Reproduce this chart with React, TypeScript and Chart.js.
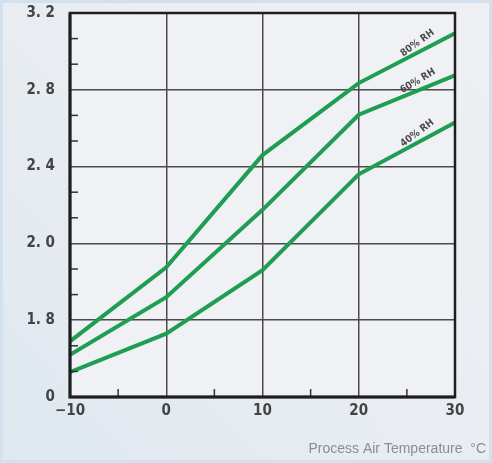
import React, { useEffect, useRef } from "react";
import { Chart, registerables } from "chart.js";

Chart.register(...registerables);

const temperatures = [-10, 0, 10, 20, 30];
const rh80 = [1.49, 1.875, 2.46, 2.835, 3.095];
const rh60 = [1.42, 1.72, 2.175, 2.67, 2.875];
const rh40 = [1.33, 1.53, 1.86, 2.36, 2.63];
const seriesNames = ["80% RH", "60% RH", "40% RH"];
const yTickLabels = ["0", "1. 8", "2. 0", "2. 4", "2. 8", "3. 2"];
const xTickLabels = ["\u221210", "0", "10", "20", "30"];
const xTitle = "Process Air Temperature  \u00b0C";

const LINE_COLOR = "#1f9d52";

const decorPlugin = {
  id: "decor",
  beforeDraw(chart: any) {
    const { ctx, width, height, chartArea } = chart;
    ctx.save();
    const g = ctx.createLinearGradient(0, height, width, 0);
    g.addColorStop(0, "#dfe8f0");
    g.addColorStop(0.5, "#e9edf1");
    g.addColorStop(1, "#eef0f3");
    ctx.fillStyle = g;
    ctx.fillRect(0, 0, width, height);
    ctx.fillStyle = "#eff1f4";
    ctx.fillRect(chartArea.left, chartArea.top, chartArea.right - chartArea.left, chartArea.bottom - chartArea.top);
    ctx.strokeStyle = "#d3e0ee";
    ctx.lineWidth = 6;
    ctx.strokeRect(0, 0, width, height);
    ctx.restore();
  },
  afterDatasetsDraw(chart: any) {
    const { ctx, chartArea, scales } = chart;
    const xs = scales.x;
    const ys = scales.y;
    ctx.save();
    ctx.strokeStyle = "#333";
    ctx.lineWidth = 1.5;
    const yTicks = ys.ticks.map((t: any) => t.value);
    for (let i = 0; i < yTicks.length - 1; i++) {
      for (let k = 1; k <= 2; k++) {
        const v = yTicks[i] + ((yTicks[i + 1] - yTicks[i]) * k) / 3;
        const py = ys.getPixelForValue(v);
        ctx.beginPath();
        ctx.moveTo(chartArea.left, py);
        ctx.lineTo(chartArea.left + 8, py);
        ctx.stroke();
      }
    }
    for (let i = 0; i < temperatures.length - 1; i++) {
      const v = (temperatures[i] + temperatures[i + 1]) / 2;
      const px = xs.getPixelForValue(v);
      ctx.beginPath();
      ctx.moveTo(px, chartArea.bottom);
      ctx.lineTo(px, chartArea.bottom - 8);
      ctx.stroke();
    }
    ctx.strokeStyle = "#1e1e1e";
    ctx.lineWidth = 2.5;
    ctx.strokeRect(chartArea.left, chartArea.top, chartArea.right - chartArea.left, chartArea.bottom - chartArea.top);
    ctx.lineWidth = 3;
    ctx.beginPath();
    ctx.moveTo(chartArea.left, chartArea.top);
    ctx.lineTo(chartArea.left, chartArea.bottom);
    ctx.lineTo(chartArea.right, chartArea.bottom);
    ctx.stroke();

    const allSeries = [rh80, rh60, rh40];
    ctx.font = "bold 10px 'DejaVu Sans Condensed', 'DejaVu Sans', sans-serif";
    ctx.fillStyle = "#4a4a4a";
    ctx.textAlign = "center";
    ctx.textBaseline = "bottom";
    allSeries.forEach((s, i) => {
      const n = s.length;
      const x0 = xs.getPixelForValue(temperatures[n - 2]);
      const y0 = ys.getPixelForValue(s[n - 2]);
      const x1 = xs.getPixelForValue(temperatures[n - 1]);
      const y1 = ys.getPixelForValue(s[n - 1]);
      const ang = Math.atan2(y1 - y0, x1 - x0);
      const t = 0.62;
      const cx = x0 + (x1 - x0) * t;
      const cy = y0 + (y1 - y0) * t;
      ctx.save();
      ctx.translate(cx + 2, cy - 5);
      ctx.rotate(ang - 0.15);
      ctx.fillText(seriesNames[i], 0, 0);
      ctx.restore();
    });

    ctx.font = "14px 'Liberation Sans', Arial, sans-serif";
    ctx.fillStyle = "#8a8d92";
    ctx.textAlign = "right";
    ctx.textBaseline = "middle";
    ctx.fillText(xTitle, 486, 449);
    ctx.restore();
  },
};

export default function App() {
  const ref = useRef<HTMLCanvasElement | null>(null);
  useEffect(() => {
    if (!ref.current) return;
    const mk = (label: string, data: number[]) => ({
      label,
      data: temperatures.map((t, i) => ({ x: t, y: data[i] })),
      borderColor: LINE_COLOR,
      borderWidth: 4,
      pointRadius: 0,
      tension: 0,
      fill: false,
    });
    const chart = new Chart(ref.current, {
      type: "line",
      data: {
        datasets: [mk(seriesNames[0], rh80), mk(seriesNames[1], rh60), mk(seriesNames[2], rh40)],
      },
      plugins: [decorPlugin],
      options: {
        animation: false,
        responsive: false,
        maintainAspectRatio: false,
        layout: { padding: { top: 13, right: 37, left: 0, bottom: 0 } },
        plugins: { legend: { display: false }, tooltip: { enabled: false } },
        scales: {
          x: {
            type: "linear",
            min: -10,
            max: 30,
            afterBuildTicks: (scale: any) => {
              scale.ticks = temperatures.map((v) => ({ value: v }));
            },
            afterFit: (scale: any) => {
              scale.height = 66;
              scale.paddingLeft = 0;
              scale.paddingRight = 0;
            },
            border: { display: false },
            grid: { color: "#4a4a4a", lineWidth: 1.5, drawTicks: false },
            ticks: {
              padding: 5,
              color: "#444",
              font: { family: "'DejaVu Sans Condensed', 'DejaVu Sans', sans-serif", weight: "bold", size: 15 },
              callback: (_v: any, i: number) => xTickLabels[i],
              maxRotation: 0,
            },
          },
          y: {
            type: "linear",
            min: 1.2,
            max: 3.2,
            afterBuildTicks: (scale: any) => {
              scale.ticks = [1.2, 1.6, 2.0, 2.4, 2.8, 3.2].map((v) => ({ value: v }));
            },
            afterFit: (scale: any) => {
              scale.width = 70;
              scale.paddingTop = 0;
              scale.paddingBottom = 0;
            },
            border: { display: false },
            grid: { color: "#4a4a4a", lineWidth: 1.5, drawTicks: false },
            ticks: {
              padding: 15,
              color: "#444",
              font: { family: "'DejaVu Sans Condensed', 'DejaVu Sans', sans-serif", weight: "bold", size: 15 },
              callback: (_v: any, i: number) => yTickLabels[i],
            },
          },
        },
      },
    } as any);
    return () => chart.destroy();
  }, []);
  return (
    <div style={{ position: "fixed", left: 0, top: 0, width: 492, height: 463 }}>
      <canvas ref={ref} width={492} height={463} style={{ display: "block", width: 492, height: 463 }} />
    </div>
  );
}
